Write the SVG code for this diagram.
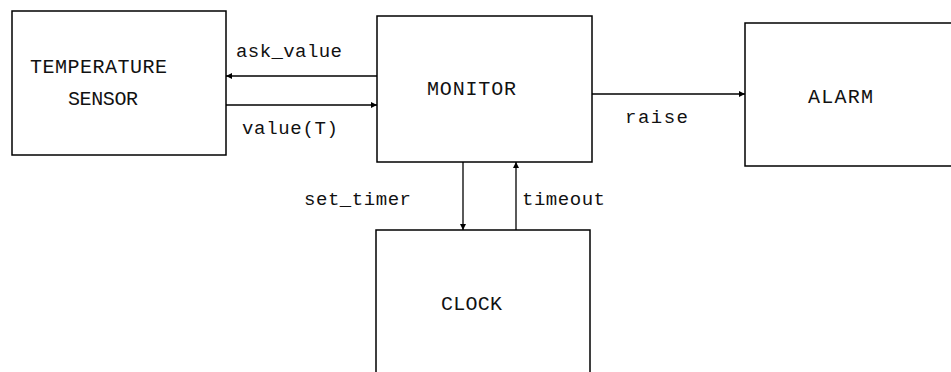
<svg xmlns="http://www.w3.org/2000/svg" width="951" height="372" viewBox="0 0 951 372">
<style>
.box{fill:none;stroke:#000;stroke-width:1.5}
.ln{fill:none;stroke:#000;stroke-width:1.3}
text{font-family:"Liberation Mono","DejaVu Sans Mono",monospace;font-size:19px;fill:#111}
.c{font-size:20px}
</style>
<defs>
<marker id="ah" viewBox="0 0 10 10" refX="10" refY="5" markerWidth="8" markerHeight="6" markerUnits="userSpaceOnUse" orient="auto">
<path d="M0,0 L10,5 L0,10 Z" fill="#000"/>
</marker>
</defs>
<rect width="951" height="372" fill="#fff"/>
<g id="temperature-sensor">
<rect class="box" x="12" y="11" width="214" height="144"/>
<text class="c" x="30" y="73" textLength="137" lengthAdjust="spacing">TEMPERATURE</text>
<text class="c" x="68" y="105" textLength="70" lengthAdjust="spacing">SENSOR</text>
</g>
<g id="monitor">
<rect class="box" x="377" y="16" width="215" height="146"/>
<text class="c" x="427" y="95" textLength="89" lengthAdjust="spacing">MONITOR</text>
</g>
<g id="alarm">
<path class="box" d="M952,23 L745,23 L745,166 L952,166"/>
<text class="c" x="808" y="103" textLength="65" lengthAdjust="spacing">ALARM</text>
</g>
<g id="clock">
<path class="box" d="M376,373 L376,230 L590,230 L590,373"/>
<text class="c" x="441" y="310" textLength="61" lengthAdjust="spacing">CLOCK</text>
</g>
<g id="connectors">
<line class="ln" x1="377" y1="76" x2="226" y2="76" marker-end="url(#ah)"/>
<line class="ln" x1="226" y1="105" x2="377" y2="105" marker-end="url(#ah)"/>
<line class="ln" x1="592" y1="94" x2="745" y2="94" marker-end="url(#ah)"/>
<line class="ln" x1="463" y1="162" x2="463" y2="230" marker-end="url(#ah)"/>
<line class="ln" x1="516" y1="230" x2="516" y2="162" marker-end="url(#ah)"/>
<text x="236" y="57" textLength="106" lengthAdjust="spacing">ask_value</text>
<text x="242" y="134" textLength="96" lengthAdjust="spacing">value(T)</text>
<text x="625" y="123" textLength="63" lengthAdjust="spacing">raise</text>
<text x="304" y="205" textLength="107" lengthAdjust="spacing">set_timer</text>
<text x="522" y="205" textLength="83" lengthAdjust="spacing">timeout</text>
</g>
</svg>
